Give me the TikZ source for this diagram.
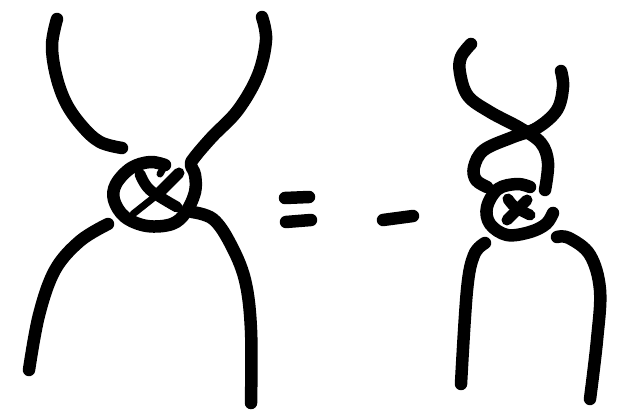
\documentclass[tikz,border=0pt]{standalone}
\tikzset{ink/.style={line width=12.5pt,line cap=round,line join=round,black},
 mid ink/.style={line width=11pt,line cap=round,line join=round,black},
 thin ink/.style={line width=7pt,line cap=round,line join=round,black}}
\begin{document}
\begin{tikzpicture}[x=1pt,y=-1pt]
\useasboundingbox (0,0) rectangle (628,419);
% left figure
\draw[ink] plot[smooth,tension=0.6] coordinates {(57,19) (52,45) (56,75) (66,103) (82,126) (100,142) (122,148)};
\draw[ink] plot[smooth,tension=0.6] coordinates {(262,17) (266,40) (258,75) (238,110) (212,137) (194,158) (191,165) (195,175) (195,192) (186,212) (172,224) (147,226) (125,217) (114,200) (116,184) (131,168) (150,162) (165,165)};
\draw[thin ink] (165,165) -- (160,174);
\draw[mid ink] plot[smooth,tension=0.6] coordinates {(140,174) (150,190) (177,207)};
\draw[mid ink] (179,173) -- (157,195);
\draw[thin ink] (157,195) -- (133,214);
\draw[ink] plot[smooth,tension=0.6] coordinates {(192,212) (213,219) (230,243) (245,280) (251,330) (251,403)};
\draw[ink] plot[smooth,tension=0.6] coordinates {(108,224) (80,241) (55,270) (39,315) (29,370)};
% equals and minus
\draw[ink] (285,198) -- (309,197);
\draw[ink] (286,222) -- (311,220);
\draw[ink] (383,220) -- (413,216);
% right figure
\draw[ink] plot[smooth,tension=0.6] coordinates {(471,44) (461,57) (460,73) (468,96) (490,112) (520,128) (541,143) (548,163) (545,190)};
\draw[ink] plot[smooth,tension=0.6] coordinates {(561,71) (563,87) (557,110) (537,128) (513,137) (484,150) (474,167) (476,180) (487,187)};
\draw[ink] plot[smooth,tension=0.6] coordinates {(530,187) (517,184) (498,189) (487,207) (490,224) (507,235) (530,232) (546,224) (553,213)};
\draw[mid ink] plot[smooth,tension=0.6] coordinates {(508,199) (515,207) (530,215)};
\draw[mid ink] (527,200) -- (507,220);
\draw[ink] plot[smooth,tension=0.6] coordinates {(485,243) (474,255) (467,290) (461,384)};
\draw[ink] plot[smooth,tension=0.6] coordinates {(557,237) (569,238) (590,255) (600,290) (597,340) (590,399)};
\end{tikzpicture}
\end{document}
